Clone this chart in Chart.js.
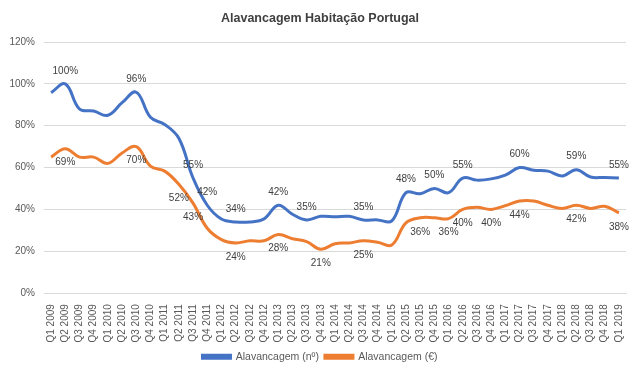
<!DOCTYPE html>
<html>
<head>
<meta charset="utf-8">
<script src="https://cdn.jsdelivr.net/npm/chart.js@4"></script>
<style>
  html, body { margin: 0; padding: 0; background: #fff; }
  #wrap { width: 640px; height: 374px; }
</style>
</head>
<body>
<div id="wrap"><canvas id="levChart" width="640" height="374"></canvas></div>
<script>
const quarters = [
  'Q1 2009','Q2 2009','Q3 2009','Q4 2009','Q1 2010','Q2 2010','Q3 2010','Q4 2010',
  'Q1 2011','Q2 2011','Q3 2011','Q4 2011','Q1 2012','Q2 2012','Q3 2012','Q4 2012',
  'Q1 2013','Q2 2013','Q3 2013','Q4 2013','Q1 2014','Q2 2014','Q3 2014','Q4 2014',
  'Q1 2015','Q2 2015','Q3 2015','Q4 2015','Q1 2016','Q2 2016','Q3 2016','Q4 2016',
  'Q1 2017','Q2 2017','Q3 2017','Q4 2017','Q1 2018','Q2 2018','Q3 2018','Q4 2018',
  'Q1 2019'
];

// Alavancagem (nº), %
const levCount = [
  95.8, 100, 88, 87, 85, 91, 96, 84, 80.6, 74,
  55, 42, 35.4, 34, 34, 35.5, 42, 37.7, 35, 36.7,
  36.5, 36.7, 35, 35, 34.5, 48, 47.5, 50, 48, 55,
  54, 54.6, 56.4, 60, 58.7, 58.3, 56, 59, 55.5, 55.3,
  55
];

// Alavancagem (€), %
const levValue = [
  65, 69, 65, 65, 62, 67, 70, 60.7, 58.3, 52,
  43, 31, 25.6, 24, 25, 25, 28, 26, 24.6, 21,
  23.6, 24, 25, 24.3, 23, 33.6, 36, 36, 35.6, 40,
  41, 40, 41.8, 44, 44, 42, 40.5, 42, 40.5, 41.5,
  38.4
];

// points that carry a value label in the original
const countLabelIdx = [1, 6, 10, 11, 13, 16, 18, 22, 25, 27, 29, 33, 37, 40];
const valueLabelIdx = [1, 6, 9, 10, 13, 16, 19, 22, 26, 28, 29, 31, 33, 37, 40];

const yTicks = [0, 20, 40, 60, 80, 100, 120];

const FONT = '"Liberation Sans", Arial, sans-serif';

// small inline replacement for a datalabels plugin
const pointLabels = {
  id: 'pointLabels',
  afterDatasetsDraw(chart) {
    const ctx = chart.ctx;
    ctx.save();
    ctx.font = '10px ' + FONT;
    ctx.fillStyle = '#404040';
    ctx.textAlign = 'center';
    ctx.textBaseline = 'middle';
    chart.data.datasets.forEach((ds, di) => {
      const meta = chart.getDatasetMeta(di);
      const idx = di === 0 ? countLabelIdx : valueLabelIdx;
      const dy = di === 0 ? -13 : 14;
      idx.forEach(i => {
        const pt = meta.data[i];
        ctx.fillText(Math.round(ds.data[i]) + '%', pt.x, pt.y + dy);
      });
    });
    ctx.restore();
  }
};

const ctx = document.getElementById('levChart').getContext('2d');
new Chart(ctx, {
  type: 'line',
  data: {
    labels: quarters,
    datasets: [{
      label: 'Alavancagem (nº)',
      data: levCount,
      borderColor: '#4472C4',
      backgroundColor: '#4472C4',
      borderWidth: 3,
      pointRadius: 0,
      tension: 0.4,
      fill: false
    }, {
      label: 'Alavancagem (€)',
      data: levValue,
      borderColor: '#ED7D31',
      backgroundColor: '#ED7D31',
      borderWidth: 3,
      pointRadius: 0,
      tension: 0.4,
      fill: false
    }]
  },
  options: {
    responsive: false,
    animation: false,
    layout: { padding: { left: 0, right: 0, top: 4, bottom: 2 } },
    plugins: {
      title: {
        display: true,
        text: 'Alavancagem Habitação Portugal',
        color: '#404040',
        font: { family: FONT, size: 12.5, weight: 'bold' },
        padding: { top: 7, bottom: 16 }
      },
      legend: {
        position: 'bottom',
        labels: {
          boxWidth: 28,
          boxHeight: 3,
          color: '#595959',
          font: { family: FONT, size: 10.5 },
          padding: 6
        }
      },
      tooltip: { enabled: false }
    },
    scales: {
      x: {
        offset: true,
        grid: { display: false },
        border: { color: '#d9d9d9' },
        ticks: {
          minRotation: 90,
          maxRotation: 90,
          autoSkip: false,
          color: '#595959',
          font: { family: FONT, size: 10 }
        }
      },
      y: {
        min: 0,
        max: 120,
        afterBuildTicks: axis => { axis.ticks = yTicks.map(v => ({ value: v })); },
        afterFit: axis => { axis.width = 44; },
        grid: { color: '#d9d9d9', drawTicks: false },
        border: { display: false },
        ticks: {
          padding: 9,
          color: '#595959',
          font: { family: FONT, size: 10 },
          callback: v => v + '%'
        }
      },
      // empty right-hand axis, only keeps the plot's right margin
      yRight: {
        position: 'right',
        min: 0,
        max: 120,
        afterFit: axis => { axis.width = 14; },
        grid: { display: false },
        border: { display: false },
        ticks: { display: false }
      }
    }
  },
  plugins: [pointLabels]
});
</script>
</body>
</html>
